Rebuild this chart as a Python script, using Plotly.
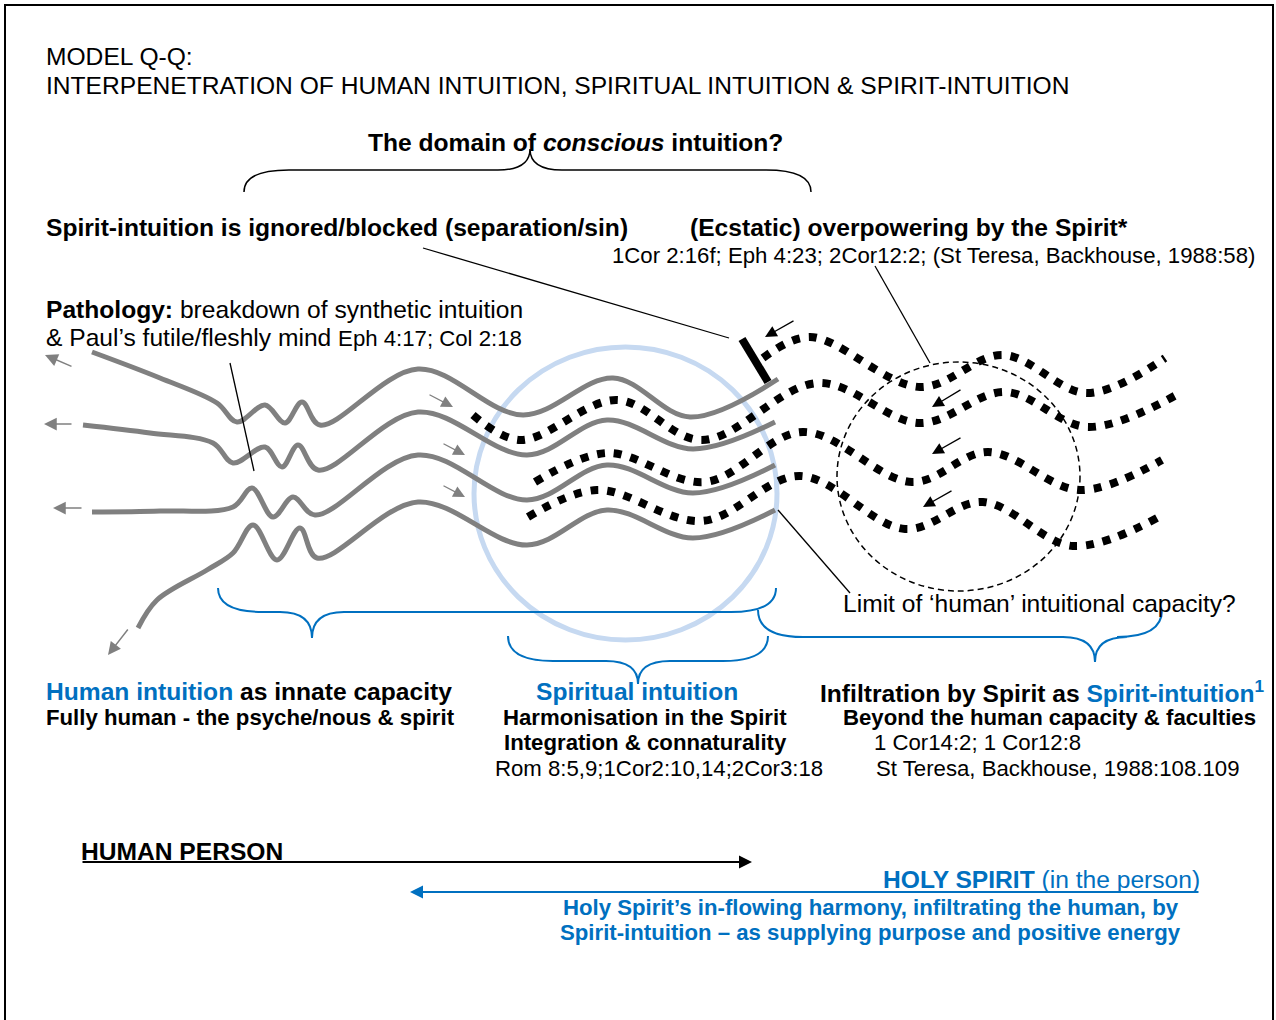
import plotly.graph_objects as go

W, H = 1276, 1020
BLUE = "#0070C0"
GRAY = "#808080"
LIGHT = "#C6D9F1"
FONT = "Liberation Sans, Arial, sans-serif"
BIG = 24.6
SMALL = 22.2

# ---- human-intuition strands (grey) ----
human1_x = [92, 160, 217, 237, 265, 285, 302, 320, 418, 523, 613, 690, 778]
human1_y = [352, 378, 403, 422, 405, 423, 402, 425, 369, 415, 378, 417, 379]
human2_x = [83, 150, 213, 233, 265, 282, 298, 318, 418, 527, 607, 693, 775]
human2_y = [425, 433, 443, 463, 447, 467, 445, 470, 412, 455, 420, 449, 422]
human3_x = [92, 160, 233, 252, 273, 293, 315, 418, 527, 607, 693, 775]
human3_y = [512, 511, 507, 488, 517, 497, 515, 455, 500, 465, 493, 465]
human4_x = [138, 157, 207, 233, 253, 277, 300, 317, 418, 527, 607, 693, 775]
human4_y = [628, 600, 570, 553, 525, 560, 528, 558, 502, 545, 510, 538, 510]

# ---- Spirit strands (black dotted) ----
spirit0_x = [763, 810, 920, 1003, 1087, 1165]
spirit0_y = [358, 337, 387, 355, 393, 358]
spirit1_x = [473, 520, 617, 702, 818, 920, 1005, 1088, 1178]
spirit1_y = [415, 440, 400, 440, 383, 423, 392, 427, 394]
spirit2_x = [535, 607, 705, 803, 912, 988, 1080, 1162]
spirit2_y = [482, 453, 482, 432, 482, 452, 490, 460]
spirit3_x = [528, 597, 702, 800, 905, 983, 1073, 1157]
spirit3_y = [517, 490, 521, 476, 529, 502, 546, 518]

# ---- arrows: (head_x, head_y, tail_x, tail_y) ----
grey_out_arrows = [(45, 355, 73, 367), (44, 424, 73, 424), (53, 508, 83, 508), (108, 655, 129, 628)]
grey_in_arrows = [(453, 407, 428, 394), (465, 455, 442, 443), (465, 497, 442, 485)]
black_in_arrows = [(765, 337, 795, 320), (932, 407, 962, 389), (932, 454, 962, 437), (923, 507, 953, 490)]

# ---- pointer lines: (x0, y0, x1, y1) ----
pointer_lines = [(423, 248, 729, 338), (875, 266, 930, 363), (778, 510, 850, 593), (230, 363, 254, 471)]

# ---- braces: (x0, x1, x_tip, y_end, y_mid, y_tip, colour) ----
braces = [
    (244, 811, 530, 192, 170, 149, "black"),
    (218, 776, 312, 588, 612, 638, BLUE),
    (508, 768, 638, 636, 661, 684, BLUE),
    (758, 1162, 1095, 610, 637, 662, BLUE),
]

fig = go.Figure()

def strand(xs, ys, color, width, dash=None):
    fig.add_trace(go.Scatter(
        x=xs, y=ys, mode="lines",
        line=dict(color=color, width=width, shape="spline", smoothing=1.0, dash=dash),
        hoverinfo="skip", showlegend=False))

for xs, ys in [(human1_x, human1_y), (human2_x, human2_y), (human3_x, human3_y), (human4_x, human4_y)]:
    strand(xs, ys, GRAY, 5)
for xs, ys in [(spirit0_x, spirit0_y), (spirit1_x, spirit1_y), (spirit2_x, spirit2_y), (spirit3_x, spirit3_y)]:
    strand(xs, ys, "black", 8, "8px,9px")

shapes = []
shapes.append(dict(type="rect", x0=5, y0=5, x1=1273, y1=1030, line=dict(color="black", width=2), layer="below"))
shapes.append(dict(type="circle", x0=474, y0=347, x1=777, y1=640, line=dict(color=LIGHT, width=5), layer="below"))
shapes.append(dict(type="circle", x0=837, y0=362, x1=1080, y1=591, line=dict(color="black", width=1.5, dash="6px,4px")))
shapes.append(dict(type="line", x0=742, y0=339, x1=768, y1=382, line=dict(color="black", width=8)))
for x0, y0, x1, y1 in pointer_lines:
    shapes.append(dict(type="line", x0=x0, y0=y0, x1=x1, y1=y1, line=dict(color="black", width=1.3)))

def brace_path(x0, x1, xt, ye, ym, yt):
    re, rt = 45, 32
    return (f"M {x0},{ye} Q {x0},{ym} {x0+re},{ym} L {xt-rt},{ym} Q {xt},{ym} {xt},{yt} "
            f"Q {xt},{ym} {xt+rt},{ym} L {x1-re},{ym} Q {x1},{ym} {x1},{ye}")

for x0, x1, xt, ye, ym, yt, col in braces:
    shapes.append(dict(type="path", path=brace_path(x0, x1, xt, ye, ym, yt),
                       line=dict(color=col, width=2 if col == BLUE else 1.5)))

ann = []
def txt(x, y, t, size=BIG, anchor="left", color="black"):
    if anchor == "left":
        x -= 2
    elif anchor == "right":
        x += 2
    ann.append(dict(x=x, y=y, text=t, showarrow=False, xanchor=anchor, yanchor="middle",
                    font=dict(family=FONT, size=size, color=color)))

def arrow(hx, hy, tx, ty, color, width=1.3, size=1.6, head=2):
    ann.append(dict(x=hx, y=hy, ax=tx, ay=ty, axref="x", ayref="y", text="", showarrow=True,
                    arrowhead=head, arrowsize=size, arrowwidth=width, arrowcolor=color))

txt(46, 56, "MODEL Q-Q:", BIG)
txt(46, 85, "INTERPENETRATION OF HUMAN INTUITION, SPIRITUAL INTUITION &amp; SPIRIT-INTUITION", BIG)
txt(575, 142, "<b>The domain of <i>conscious</i> intuition?</b>", BIG, "center")
txt(46, 227, "<b>Spirit-intuition is ignored/blocked (separation/sin)</b>", BIG)
txt(690, 227, "<b>(Ecstatic) overpowering by the Spirit*</b>", BIG)
txt(612, 255, "1Cor 2:16f; Eph 4:23; 2Cor12:2; (St Teresa, Backhouse, 1988:58)", SMALL)
txt(46, 309, "<b>Pathology:</b> breakdown of synthetic intuition", BIG)
txt(46, 337, f"&amp; Paul’s futile/fleshly mind <span style='font-size:{SMALL}px'>Eph 4:17; Col 2:18</span>", BIG)
txt(843, 603, "Limit of ‘human’ intuitional capacity?", BIG)

txt(46, 691, f"<b><span style='color:{BLUE}'>Human intuition</span> as innate capacity</b>", BIG)
txt(46, 717, "<b>Fully human - the psyche/nous &amp; spirit</b>", SMALL)
txt(637, 691, "<b>Spiritual intuition</b>", BIG, "center", BLUE)
txt(645, 717, "<b>Harmonisation in the Spirit</b>", SMALL, "center")
txt(645, 742, "<b>Integration &amp; connaturality</b>", SMALL, "center")
txt(659, 768, "Rom 8:5,9;1Cor2:10,14;2Cor3:18", SMALL, "center")
txt(820, 691, f"<b>Infiltration by Spirit as <span style='color:{BLUE}'>Spirit-intuition<sup>1</sup></span></b>", BIG)
txt(843, 717, "<b>Beyond the human capacity &amp; faculties</b>", SMALL)
txt(874, 742, "1 Cor14:2; 1 Cor12:8", SMALL)
txt(876, 768, "St Teresa, Backhouse, 1988:108.109", SMALL)

txt(81, 851, "<b>HUMAN PERSON</b>", BIG)
txt(1200, 879, "<b>HOLY SPIRIT</b> (in the person)", BIG, "right", BLUE)
txt(871, 907, "<b>Holy Spirit’s in-flowing harmony, infiltrating the human, by</b>", SMALL, "center", BLUE)
txt(870, 932, "<b>Spirit-intuition – as supplying purpose and positive energy</b>", SMALL, "center", BLUE)

for hx, hy, tx, ty in grey_out_arrows:
    arrow(hx, hy, tx, ty, GRAY, 1.5, 1.7)
for hx, hy, tx, ty in grey_in_arrows:
    arrow(hx, hy, tx, ty, GRAY, 1.3, 1.8)
for hx, hy, tx, ty in black_in_arrows:
    arrow(hx, hy, tx, ty, "black", 1.3, 1.8)
arrow(752, 862, 81, 862, "black", 2, 1.3)
arrow(410, 892, 1200, 892, BLUE, 2, 1.3)

fig.update_layout(
    width=W, height=H, margin=dict(l=0, r=0, t=0, b=0),
    paper_bgcolor="white", plot_bgcolor="white",
    xaxis=dict(range=[0, W], visible=False, fixedrange=True),
    yaxis=dict(range=[H, 0], visible=False, fixedrange=True),
    shapes=shapes, annotations=ann, showlegend=False,
)

fig.write_html("out.html", config={"displayModeBar": False},
               post_script="document.body.style.margin='0';document.body.style.overflow='hidden';")
